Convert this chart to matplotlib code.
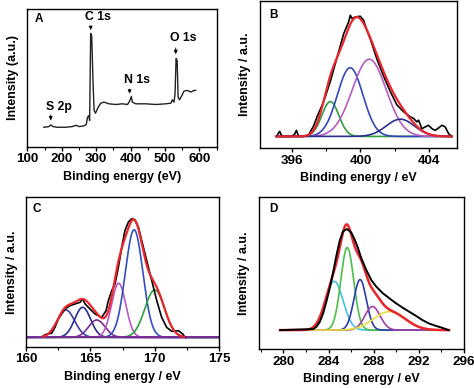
import numpy as np
import matplotlib
matplotlib.use("Agg")
import matplotlib.pyplot as plt
from matplotlib.ticker import MultipleLocator

plt.rcParams['font.family'] = ['Liberation Sans', 'DejaVu Sans']
plt.rcParams['font.weight'] = 'bold'

# ---------------- Panel A: survey spectrum ----------------
a_x = [148, 163, 168, 175, 187, 211, 230, 242, 250, 264, 271, 275, 279, 281, 284, 287,
       291, 294, 298, 306, 313, 323, 337, 357, 376, 391, 398, 402, 405, 415, 444, 473,
       502, 517, 521, 526, 529, 532, 535, 538, 542, 549, 555, 565, 575, 584, 589]
a_y = [58, 60, 65, 60, 58, 58, 60, 64, 60, 62, 66, 88, 93, 78, 338, 330,
       188, 108, 100, 118, 130, 133, 128, 126, 128, 126, 138, 150, 133, 128, 128, 126,
       128, 130, 140, 133, 158, 263, 258, 148, 140, 153, 166, 168, 163, 168, 168]
a_labels = ["S 2p", "C 1s", "N 1s", "O 1s"]
a_label_pos = [(192, 118), (306, 388), (418, 198), (554, 323)]
a_arrow_x = [168, 284, 397, 531]
a_arrow_y = [(103, 70), (363, 340), (180, 150), (303, 268)]

# ---------------- Panel B: N 1s ----------------
b_x = [395.08, 395.27, 395.41, 395.66, 395.90, 396.13, 396.25, 396.38, 396.68, 396.97,
       397.26, 397.46, 397.85, 398.24, 398.63, 399.02, 399.31, 399.41, 399.51, 399.70,
       399.99, 400.19, 400.38, 400.58, 400.97, 401.36, 401.75, 402.14, 402.53, 402.92,
       403.12, 403.31, 403.41, 403.60, 403.80, 403.99, 404.19, 404.38, 404.58, 404.78,
       404.97, 405.17, 405.36]
b_y = [0, 15, 0, 0, 0, 5, 18, 0, 0, 5,
       31, 58, 103, 163, 233, 303, 338, 358, 348, 353,
       355, 343, 313, 288, 228, 178, 133, 93, 73, 58,
       53, 43, 48, 23, 28, 33, 23, 18, 25, 33,
       28, 8, 0]
b_centers = [398.24, 399.40, 400.52, 402.34]
b_heights = [103, 203, 228, 51]
b_fwhm = [1.17, 1.76, 2.34, 1.95]
b_colors = ['#2e9e3e', '#3247b8', '#b65bc2', '#2b2f8c']

# ---------------- Panel C: S 2p ----------------
c_x = [161.35, 161.61, 161.99, 162.25, 162.51, 162.77, 163.03, 163.42, 163.81, 164.20,
       164.40, 164.59, 164.97, 165.36, 165.62, 165.88, 166.22, 166.40, 166.66, 166.92,
       167.18, 167.44, 167.69, 167.95, 168.21, 168.47, 168.73, 168.99, 169.38, 169.77,
       170.16, 170.54, 170.93, 171.32, 171.84, 172.18, 172.36]
c_y = [5, 10, 12, 30, 55, 70, 85, 95, 100, 105,
       115, 100, 85, 70, 65, 60, 80, 110, 140, 160,
       210, 270, 320, 345, 355, 350, 330, 290, 230, 170,
       110, 60, 30, 18, 20, 10, 0]
c_centers = [163.1, 164.4, 165.5, 167.2, 168.4, 170.0]
c_heights = [82, 90, 52, 162, 322, 142]
c_fwhm = [1.6, 1.45, 1.5, 1.3, 1.6, 1.8]
c_colors = ['#3a3fa8', '#2a2d8e', '#7a2c92', '#b55ac4', '#3350c2', '#2e9e3e']

# ---------------- Panel D: C 1s ----------------
d_x = [279.71, 282.64, 282.93, 283.23, 283.52, 283.81, 284.11, 284.40, 284.69, 284.99,
       285.28, 285.63, 286.01, 286.30, 286.60, 286.89, 287.33, 287.77, 288.21, 288.80,
       289.38, 289.97, 290.56, 291.14, 291.73, 292.32, 292.90, 293.49, 294.08, 294.66]
d_y = [0, 3, 10, 25, 50, 85, 125, 170, 220, 265,
       293, 300, 290, 270, 245, 215, 180, 150, 130, 110,
       95, 80, 67, 55, 43, 30, 20, 13, 7, 0]
d_centers = [284.5, 285.66, 286.8, 287.9, 289.4]
d_heights = [145, 245, 150, 70, 55]
d_fwhm = [1.85, 1.35, 1.3, 1.6, 3.3]
d_colors = ['#45c3e0', '#4cbf4a', '#2c3ea6', '#a140a8', '#e6e03c']


def peak(x, c, h, w):
    s = w / 2.3548
    return h * np.exp(-0.5 * ((x - c) / s) ** 2)


fig = plt.figure(figsize=(4.74, 3.88), dpi=100)

TICK_FS = 9.6
LAB_FS = 9.0


def style(ax, xlabel, ylabel):
    for sp in ax.spines.values():
        sp.set_linewidth(1.0)
    ax.tick_params(axis='y', left=False, labelleft=False)
    ax.tick_params(axis='x', which='major', direction='out', length=3, width=1.0,
                   pad=1.5, labelsize=TICK_FS)
    ax.tick_params(axis='x', which='minor', direction='out', length=2, width=0.8)
    for t in ax.get_xticklabels():
        t.set_fontweight('bold')
    ax.set_xlabel(xlabel, fontsize=LAB_FS, fontweight='bold', labelpad=4)
    ax.set_ylabel(ylabel, fontsize=LAB_FS, fontweight='bold', labelpad=6)


# Panel A
axA = fig.add_axes([0.0576, 0.6219, 0.3996, 0.3549])
axA.plot(a_x, a_y, color='#222222', lw=1.0)
axA.set_xlim(100, 650)
axA.set_ylim(0, 411)
axA.xaxis.set_major_locator(MultipleLocator(100))
axA.xaxis.set_minor_locator(MultipleLocator(50))
for lab, (tx, ty), ax_x, (y0, y1) in zip(a_labels, a_label_pos, a_arrow_x, a_arrow_y):
    axA.text(tx, ty, lab, ha='center', va='center', fontsize=8.8, fontweight='bold')
    axA.annotate('', xy=(ax_x, y1), xytext=(ax_x, y0),
                 arrowprops=dict(arrowstyle='-|>', color='black', lw=0.7,
                                 mutation_scale=5))
axA.text(0.04, 0.93, 'A', transform=axA.transAxes, fontsize=8.5, fontweight='bold',
         ha='left', va='center')
style(axA, 'Binding energy (eV)', 'Intensity (a.u.)')

# Panel B
axB = fig.add_axes([0.5479, 0.6178, 0.4162, 0.3796])
xb = np.linspace(395.08, 405.36, 400)
envB = np.zeros_like(xb)
for c, h, w, col in zip(b_centers, b_heights, b_fwhm, b_colors):
    yb = peak(xb, c, h, w)
    envB += yb
    axB.plot(xb, yb, color=col, lw=1.2)
axB.plot(b_x, b_y, color='black', lw=1.2)
axB.plot(xb, envB, color='#e8262b', lw=1.6)
axB.set_xlim(394.1, 405.66)
axB.set_ylim(-35, 400)
axB.xaxis.set_major_locator(MultipleLocator(4))
axB.xaxis.set_minor_locator(MultipleLocator(2))
axB.text(0.047, 0.905, 'B', transform=axB.transAxes, fontsize=8.5, fontweight='bold',
         ha='left', va='center')
style(axB, 'Binding energy / eV', 'Intensity / a.u.')

# Panel C
axC = fig.add_axes([0.0549, 0.1064, 0.4072, 0.3858])
xc = np.linspace(160, 175, 500)
envC = np.zeros_like(xc)
for c, h, w, col in zip(c_centers, c_heights, c_fwhm, c_colors):
    yc = peak(xc, c, h, w)
    envC += yc
    axC.plot(xc, yc, color=col, lw=1.2)
axC.plot(xc, np.zeros_like(xc), color='#7a2c92', lw=1.4)
axC.plot(c_x, c_y, color='black', lw=1.2)
m = (xc > 161.3) & (xc < 172.3)
axC.plot(xc[m], envC[m], color='#e8262b', lw=1.6)
axC.set_xlim(160, 175)
axC.set_ylim(-28, 420)
axC.xaxis.set_major_locator(MultipleLocator(5))
axC.xaxis.set_minor_locator(MultipleLocator(2.5))
axC.text(0.031, 0.92, 'C', transform=axC.transAxes, fontsize=8.5, fontweight='bold',
         ha='left', va='center')
style(axC, 'Binding energy / eV', 'Intensity / a.u.')

# Panel D
axD = fig.add_axes([0.5458, 0.0997, 0.4325, 0.3925])
xd = np.linspace(279.7, 294.7, 500)
envD = np.zeros_like(xd)
for c, h, w, col in zip(d_centers, d_heights, d_fwhm, d_colors):
    yd = peak(xd, c, h, w)
    envD += yd
    axD.plot(xd, yd, color=col, lw=1.2)
axD.plot(xd, envD, color='#e8262b', lw=1.8)
axD.plot(d_x, d_y, color='black', lw=1.4)
axD.set_xlim(277.8, 296)
axD.set_ylim(-57, 395)
axD.xaxis.set_major_locator(MultipleLocator(4))
axD.xaxis.set_minor_locator(MultipleLocator(2))
axD.text(0.05, 0.92, 'D', transform=axD.transAxes, fontsize=8.5, fontweight='bold',
         ha='left', va='center')
style(axD, 'Binding energy / eV', 'Intensity / a.u.')

fig.savefig('out.png', dpi=100)
